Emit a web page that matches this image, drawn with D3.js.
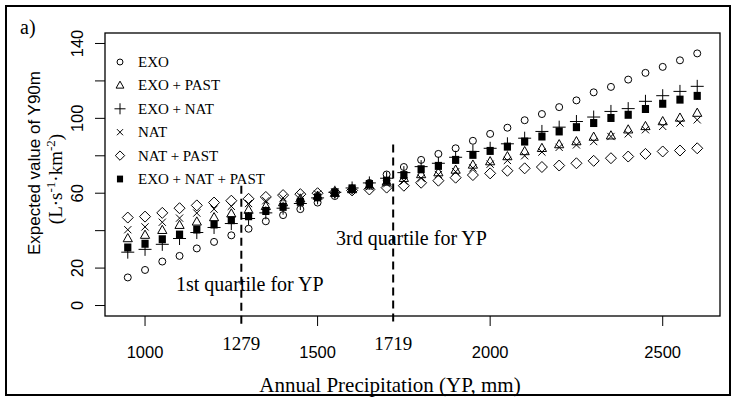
<!DOCTYPE html>
<html><head><meta charset="utf-8">
<script src="https://cdn.jsdelivr.net/npm/d3@7"></script>
<style>body{margin:0;background:#fff}</style>
</head><body><svg id="c" width="736" height="400"></svg>
<script>
// ---- data ----
const precip = [950,1000,1050,1100,1150,1200,1250,1300,1350,1400,1450,1500,1550,1600,1650,1700,1750,1800,1850,1900,1950,2000,2050,2100,2150,2200,2250,2300,2350,2400,2450,2500,2550,2600];
const seriesNames = ["EXO","EXO + PAST","EXO + NAT","NAT","NAT + PAST","EXO + NAT + PAST"];
const seriesSymbols = ["circle","triangle","plus","cross","diamond","square"];
const exo        = [15,19,23.5,26.5,30.5,34,37.5,41,45,48.3,51.5,55,58.5,62,65.5,70,74,77.8,81,84,88,91.7,95,99,102.3,106,109.6,113.9,116.8,120.7,124.3,127.5,131,134.7];
const exoPast    = [35.8,37.6,40.2,42.9,44.7,47,49,51,53,55,57,58.5,60,62,64,66,68,70,71,72.4,75.1,76.9,79.6,82.3,84,86,87.6,90,90.7,93.9,95.7,98.3,100.2,102.8];
const exoNat     = [28.5,30,32.7,35.8,39,41.7,43.8,46.5,49.5,52,54.5,57.5,60.5,62.8,65.5,68,71,74.2,76,79.2,82.3,84,86.4,89.4,93,95.3,98.3,100.7,103.7,105.2,109.1,112.1,114.4,117.1];
const nat        = [40.5,42,44.5,46.7,49.4,51.5,53,54.5,56,57.5,58.5,59.5,60.5,62,63.5,65,66.5,68,70,71.5,73.5,75.5,77.5,80,82,84.5,85.8,87.6,90.3,91.7,93.9,95.7,97.5,99.2];
const natPast    = [47,47.5,49.5,52,53.5,55,56,57,58,59,59.5,60,60.5,61.5,62,63,64,65.6,66.7,68.3,69.7,70.6,72,73.3,74,74.8,76,77.3,78.7,79.6,81,82.3,82.8,84];
const exoNatPast = [31,33,35.4,37.9,40.6,43.3,45.6,47.7,50.5,52.7,55.4,57.8,60.5,62.6,64.9,66.7,69.7,72.8,74.6,77.8,80.5,82.6,84.9,87.6,90.3,93,95.3,97.5,100.2,101.9,105,107.8,110,112];
const xTicks = [1000,1500,2000,2500];
const yTicks = [0,20,40,60,80,100,120,140];
const yTickLabels = ["0","20","","60","","100","","140"];
const quartiles = [1279,1719];
const quartileTops = [64,86];
const quartileLabels = ["1st quartile for YP","3rd quartile for YP"];

const seriesValues = [exo, exoPast, exoNat, nat, natPast, exoNatPast];

// ---- layout ----
const svg = d3.select("#c");
const L = 105, R = 720, T = 33, B = 316;
const xr = d3.extent(precip), xpad = 0.04*(xr[1]-xr[0]);
const x = d3.scaleLinear().domain([xr[0]-xpad, xr[1]+xpad]).range([L, R]);
const y = d3.scaleLinear().domain([-5.6, 145.6]).range([B, T]);
const serif = "'Liberation Serif','Times New Roman',serif";
const sans = "'Liberation Sans',Arial,sans-serif";

// outer frame
svg.append("rect").attr("x",6).attr("y",6).attr("width",724).attr("height",389)
  .attr("fill","none").attr("stroke","#000").attr("stroke-width",2);

// symbols
function symbolPath(type, s) {
  switch (type) {
    case "triangle": return `M0,${-5*s}L${4.6*s},${3.2*s}L${-4.6*s},${3.2*s}Z`;
    case "diamond": return `M0,${-5.5*s}L${5.5*s},0L0,${5.5*s}L${-5.5*s},0Z`;
    case "cross": return `M${-3.6*s},${-3.6*s}L${3.6*s},${3.6*s}M${-3.6*s},${3.6*s}L${3.6*s},${-3.6*s}`;
    case "plus": return `M${-6.5*s},0L${6.5*s},0M0,${-6.5*s}L0,${6.5*s}`;
  }
}
function drawSymbol(g, type, cx, cy, s) {
  if (type === "circle") {
    g.append("circle").attr("cx",cx).attr("cy",cy).attr("r",3.5*s)
      .attr("fill","none").attr("stroke","#000").attr("stroke-width",1);
  } else if (type === "square") {
    g.append("rect").attr("x",cx-3.6*s).attr("y",cy-4*s).attr("width",7.2*s).attr("height",8*s).attr("fill","#000");
  } else {
    g.append("path").attr("d",symbolPath(type,s)).attr("transform",`translate(${cx},${cy})`)
      .attr("fill","none").attr("stroke","#000").attr("stroke-width",1);
  }
}

const gPts = svg.append("g");
seriesValues.forEach((vals, i) => {
  vals.forEach((v, j) => drawSymbol(gPts, seriesSymbols[i], x(precip[j]), y(v), 1));
});

// quartile dashed lines
quartiles.forEach((q, i) => {
  svg.append("line").attr("x1",x(q)).attr("x2",x(q)).attr("y1",y(quartileTops[i])).attr("y2",B+9)
    .attr("stroke","#000").attr("stroke-width",2).attr("stroke-dasharray","8,5");
});

// plot box
svg.append("rect").attr("x",L).attr("y",T).attr("width",R-L).attr("height",B-T)
  .attr("fill","none").attr("stroke","#000").attr("stroke-width",1.3);

// x axis
const xa = svg.append("g");
xTicks.forEach(t => {
  xa.append("line").attr("x1",x(t)).attr("x2",x(t)).attr("y1",B).attr("y2",B+10).attr("stroke","#000");
  xa.append("text").attr("x",x(t)).attr("y",358).attr("text-anchor","middle")
    .attr("font-family",sans).attr("font-size",16.5).text(t);
});
quartiles.forEach(q => {
  xa.append("text").attr("x",x(q)).attr("y",350).attr("text-anchor","middle")
    .attr("font-family",serif).attr("font-size",19).text(q);
});
xa.append("text").attr("x",390).attr("y",392).attr("text-anchor","middle")
  .attr("font-family",serif).attr("font-size",21).text("Annual Precipitation (YP, mm)");

// y axis
const ya = svg.append("g");
yTicks.forEach((t, i) => {
  ya.append("line").attr("x1",L-10).attr("x2",L).attr("y1",y(t)).attr("y2",y(t)).attr("stroke","#000");
  if (yTickLabels[i]) ya.append("text").attr("transform",`translate(83,${y(t)}) rotate(-90)`)
    .attr("text-anchor","middle").attr("font-family",sans).attr("font-size",16.5).text(yTickLabels[i]);
});
ya.append("text").attr("transform",`translate(40,163) rotate(-90)`).attr("text-anchor","middle")
  .attr("font-family",sans).attr("font-size",17).text("Expected value of Y90m");
const u = ya.append("text").attr("transform",`translate(62,179) rotate(-90)`).attr("text-anchor","middle")
  .attr("font-family",serif).attr("font-size",19);
u.append("tspan").text("(L·s");
u.append("tspan").attr("dy",-7).attr("font-size",13).text("-1");
u.append("tspan").attr("dy",7).text("·km");
u.append("tspan").attr("dy",-7).attr("font-size",13).text("-2");
u.append("tspan").attr("dy",7).text(")");

// panel label
svg.append("text").attr("x",20).attr("y",34).attr("font-family",serif).attr("font-size",20).text("a)");

// legend
seriesNames.forEach((n, i) => {
  const cy = 62 + i*23.4;
  drawSymbol(svg, seriesSymbols[i], 120, cy, 0.85);
  svg.append("text").attr("x",138).attr("y",cy+5).attr("font-family",serif).attr("font-size",15).text(n);
});

// quartile labels
svg.append("text").attr("x",176).attr("y",291).attr("font-family",serif).attr("font-size",20).text(quartileLabels[0]);
svg.append("text").attr("x",336).attr("y",245).attr("font-family",serif).attr("font-size",20).text(quartileLabels[1]);
</script></body></html>
